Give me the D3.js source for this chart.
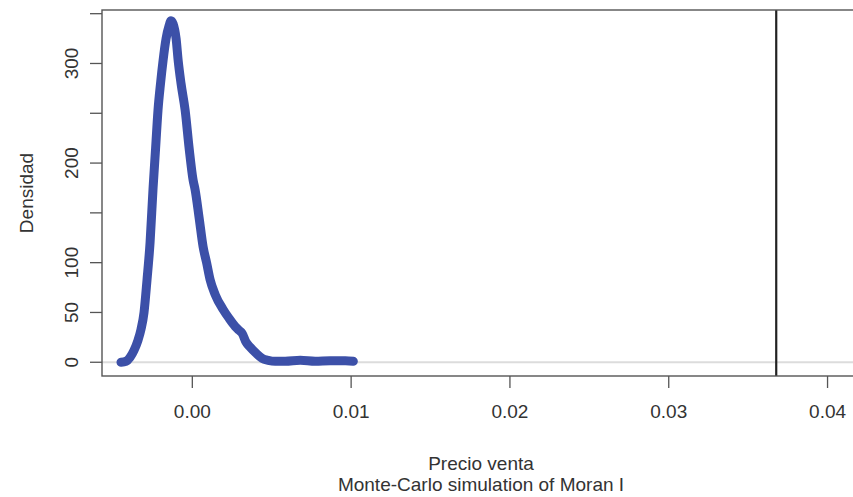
<!DOCTYPE html>
<meta charset="utf-8">
<script src="https://d3js.org/d3.v7.min.js"></script>
<style>
  body { margin: 0; background: #fff; }
  text { font-family: "Liberation Sans", Arial, sans-serif; fill: #333; }
  .axis path { display: none; }
  .axis line { stroke: #555; stroke-width: 1.3px; }
</style>
<div id="chart"></div>
<script>

// density of simulated Moran I values (x = statistic, y = density)
var simX = [-0.00446, -0.00414, -0.00389, -0.00364, -0.00339, -0.00320, -0.00301, -0.00282,
            -0.00263, -0.00244, -0.00228, -0.00213, -0.00197, -0.00181, -0.00162, -0.00143,
            -0.00131, -0.00118, -0.00099, -0.00086, -0.00068, -0.00042, -0.00017, 0.00008,
            0.00021, 0.00046, 0.00071, 0.00093, 0.00115, 0.00147, 0.00197, 0.00235,
            0.00273, 0.00298, 0.00317, 0.00342, 0.00368, 0.00405, 0.00443, 0.00481,
            0.00525, 0.00588, 0.00683, 0.00777, 0.00872, 0.00967, 0.01017];
var simY = [0, 1, 5, 12, 22, 33, 50, 83,
            120, 175, 215, 253, 280, 303, 325, 338,
            343, 340, 325, 303, 280, 253, 215, 183,
            173, 145, 116, 100, 83, 68, 53, 44,
            36, 32, 29, 20, 15, 9, 4, 2,
            1, 1, 2, 1, 1.5, 1.5, 1];

// observed statistic
var observed = 0.0368;

var xTicks = [0, 0.01, 0.02, 0.03, 0.04];
var yTicks = [0, 50, 100, 150, 200, 250, 300, 350];
var yTickLabels = ["0", "50", "100", "", "200", "", "300", ""];

var xLabel = "Precio venta";
var subLabel = "Monte-Carlo simulation of Moran I";
var yLabel = "Densidad";

var W = 853, H = 497;
var margin = {top: 10, right: -7, bottom: 121, left: 102},
    width = W - margin.left - margin.right,
    height = H - margin.top - margin.bottom;

var svg = d3.select("#chart")
  .append("svg")
    .attr("width", W)
    .attr("height", H);

var g = svg.append("g")
    .attr("transform", "translate(" + margin.left + "," + margin.top + ")");

var x = d3.scaleLinear()
  .domain([-0.005656, 0.042075])
  .range([0, width]);

var y = d3.scaleLinear()
  .domain([-13.8, 353.7])
  .range([height, 0]);

// zero reference line
g.append("line")
  .attr("x1", 0).attr("x2", width)
  .attr("y1", y(0)).attr("y2", y(0))
  .style("stroke", "#dcdcdc")
  .style("stroke-width", 2);

// density curve
var data = simX.map(function(d, i) { return [d, simY[i]]; });
var line = d3.line()
  .x(function(d) { return x(d[0]); })
  .y(function(d) { return y(d[1]); })
  .curve(d3.curveMonotoneX);

g.append("path")
  .datum(data)
  .attr("d", line)
  .style("fill", "none")
  .style("stroke", "#3c50a8")
  .style("stroke-width", 9)
  .style("stroke-linecap", "round")
  .style("stroke-linejoin", "round");

// observed value
g.append("line")
  .attr("x1", x(observed)).attr("x2", x(observed))
  .attr("y1", 0).attr("y2", height)
  .style("stroke", "#222")
  .style("stroke-width", 2.2);

// box
g.append("rect")
  .attr("width", width).attr("height", height)
  .style("fill", "none")
  .style("stroke", "#555")
  .style("stroke-width", 1.4);

// X axis
var xAxis = g.append("g")
  .attr("class", "axis")
  .attr("transform", "translate(0," + height + ")")
  .call(d3.axisBottom(x).tickValues(xTicks).tickSize(12).tickPadding(17)
    .tickFormat(d3.format(".2f")));
xAxis.selectAll("text")
  .style("font-size", "19px")
  .style("fill", "#333");

// Y axis
var yAxis = g.append("g")
  .attr("class", "axis")
  .call(d3.axisLeft(y).tickValues(yTicks).tickSize(12)
    .tickFormat(function(d, i) { return yTickLabels[i]; }));
yAxis.selectAll("text")
  .attr("x", 0).attr("dy", 0)
  .attr("transform", function(d) { return "translate(-24," + y(d) + ") rotate(-90)"; })
  .attr("y", 0)
  .style("text-anchor", "middle")
  .style("font-size", "19px")
  .style("fill", "#333");
yAxis.selectAll(".tick")
  .attr("transform", null);
yAxis.selectAll(".tick line")
  .attr("y1", function(d) { return y(d); })
  .attr("y2", function(d) { return y(d); });

// axis titles
var cx = margin.left + width / 2;
svg.append("text")
  .attr("x", cx).attr("y", 470)
  .style("text-anchor", "middle")
  .style("font-size", "19px")
  .text(xLabel);
svg.append("text")
  .attr("x", cx).attr("y", 491)
  .style("text-anchor", "middle")
  .style("font-size", "19px")
  .text(subLabel);
svg.append("text")
  .attr("transform", "translate(33," + (margin.top + height / 2) + ") rotate(-90)")
  .style("text-anchor", "middle")
  .style("font-size", "19px")
  .text(yLabel);

</script>
